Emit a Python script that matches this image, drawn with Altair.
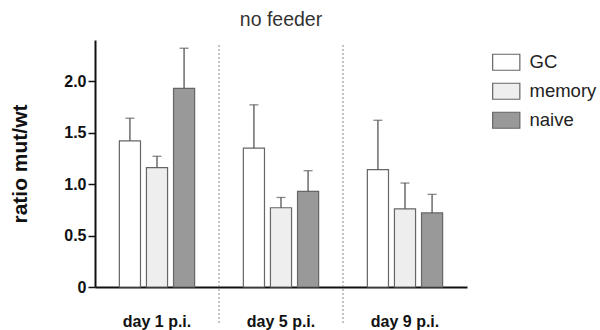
import altair as alt
import pandas as pd

days = ["day 1 p.i.", "day 5 p.i.", "day 9 p.i."]
cells = ["GC", "memory", "naive"]
gc_mean = [1.42, 1.35, 1.14]
gc_upper = [1.64, 1.77, 1.62]
mem_mean = [1.16, 0.77, 0.76]
mem_upper = [1.27, 0.87, 1.01]
naive_mean = [1.93, 0.93, 0.72]
naive_upper = [2.32, 1.13, 0.90]
fills = ["#ffffff", "#eeeeee", "#999999"]

rows = []
for cell, means, ups in zip(cells, [gc_mean, mem_mean, naive_mean],
                            [gc_upper, mem_upper, naive_upper]):
    for d, m, u in zip(days, means, ups):
        rows.append({"day": d, "cell": cell, "mean": m, "upper": u})
df = pd.DataFrame(rows)
sep_df = pd.DataFrame({"day": days[1:]})

FONT = "Liberation Sans"

x_enc = alt.X(
    "day:N",
    scale=alt.Scale(domain=days, paddingInner=0, paddingOuter=0),
    axis=alt.Axis(title=None, ticks=False, labelPadding=26, labelFontSize=16,
                  labelFontWeight="bold", labelColor="#111", domainColor="#111",
                  domainWidth=2, labelAngle=0, bandPosition=0.5, labelAlign="center"),
)
xoff = alt.XOffset("cell:N", scale=alt.Scale(domain=cells, paddingInner=0.22, paddingOuter=0.9))
y_enc = alt.Y(
    "mean:Q",
    scale=alt.Scale(domain=[0, 2.4], nice=False),
    axis=alt.Axis(title="ratio mut/wt", values=[0, 0.5, 1, 1.5, 2],
                  labelExpr="datum.value == 0 ? '0' : format(datum.value, '.1f')",
                  labelFontSize=16, labelFontWeight="bold", labelColor="#111",
                  labelPadding=2,
                  titleFontSize=21, titleFontWeight="bold", titleColor="#111",
                  titlePadding=33, domainColor="#111", domainWidth=2,
                  tickColor="#111", tickWidth=1.5, tickSize=7, grid=False),
)

bars = alt.Chart(df).mark_bar(stroke="#666", strokeWidth=1.2).encode(
    x=x_enc,
    xOffset=xoff,
    y=y_enc,
    fill=alt.Fill("cell:N", scale=alt.Scale(domain=cells, range=fills),
                  legend=alt.Legend(title=None, orient="none", legendX=402, legendY=13,
                                    symbolType="M-1.7,-1H1.7V1H-1.7Z", symbolSize=256,
                                    symbolStrokeColor="#666", symbolStrokeWidth=1.2,
                                    labelFontSize=18.5, labelColor="#222", labelOffset=14,
                                    rowPadding=7, labelFont=FONT)),
)

rules = alt.Chart(df).mark_rule(color="#555", strokeWidth=1.3).encode(
    x=alt.X("day:N"), xOffset=xoff, y="mean:Q", y2="upper:Q")
caps = alt.Chart(df).mark_tick(color="#555", thickness=1.3, size=9).encode(
    x=alt.X("day:N"), xOffset=xoff, y="upper:Q")

seps = alt.Chart(sep_df).mark_rule(color="#888", strokeDash=[2, 2], strokeWidth=1).encode(
    x=alt.X("day:N", bandPosition=0), y=alt.value(5), y2=alt.value(285))

chart = alt.layer(bars, rules, caps, seps).properties(
    width=372, height=247,
    title=alt.Title("no feeder", fontSize=19.5, fontWeight="normal", color="#333",
                    font=FONT, offset=10),
    autosize=alt.AutoSizeParams(type="none"),
    padding={"left": 95, "top": 40, "right": 133, "bottom": 43},
).configure(font=FONT).configure_view(stroke=None)

chart.save("out.html", embed_options={"renderer": "svg", "actions": False})
